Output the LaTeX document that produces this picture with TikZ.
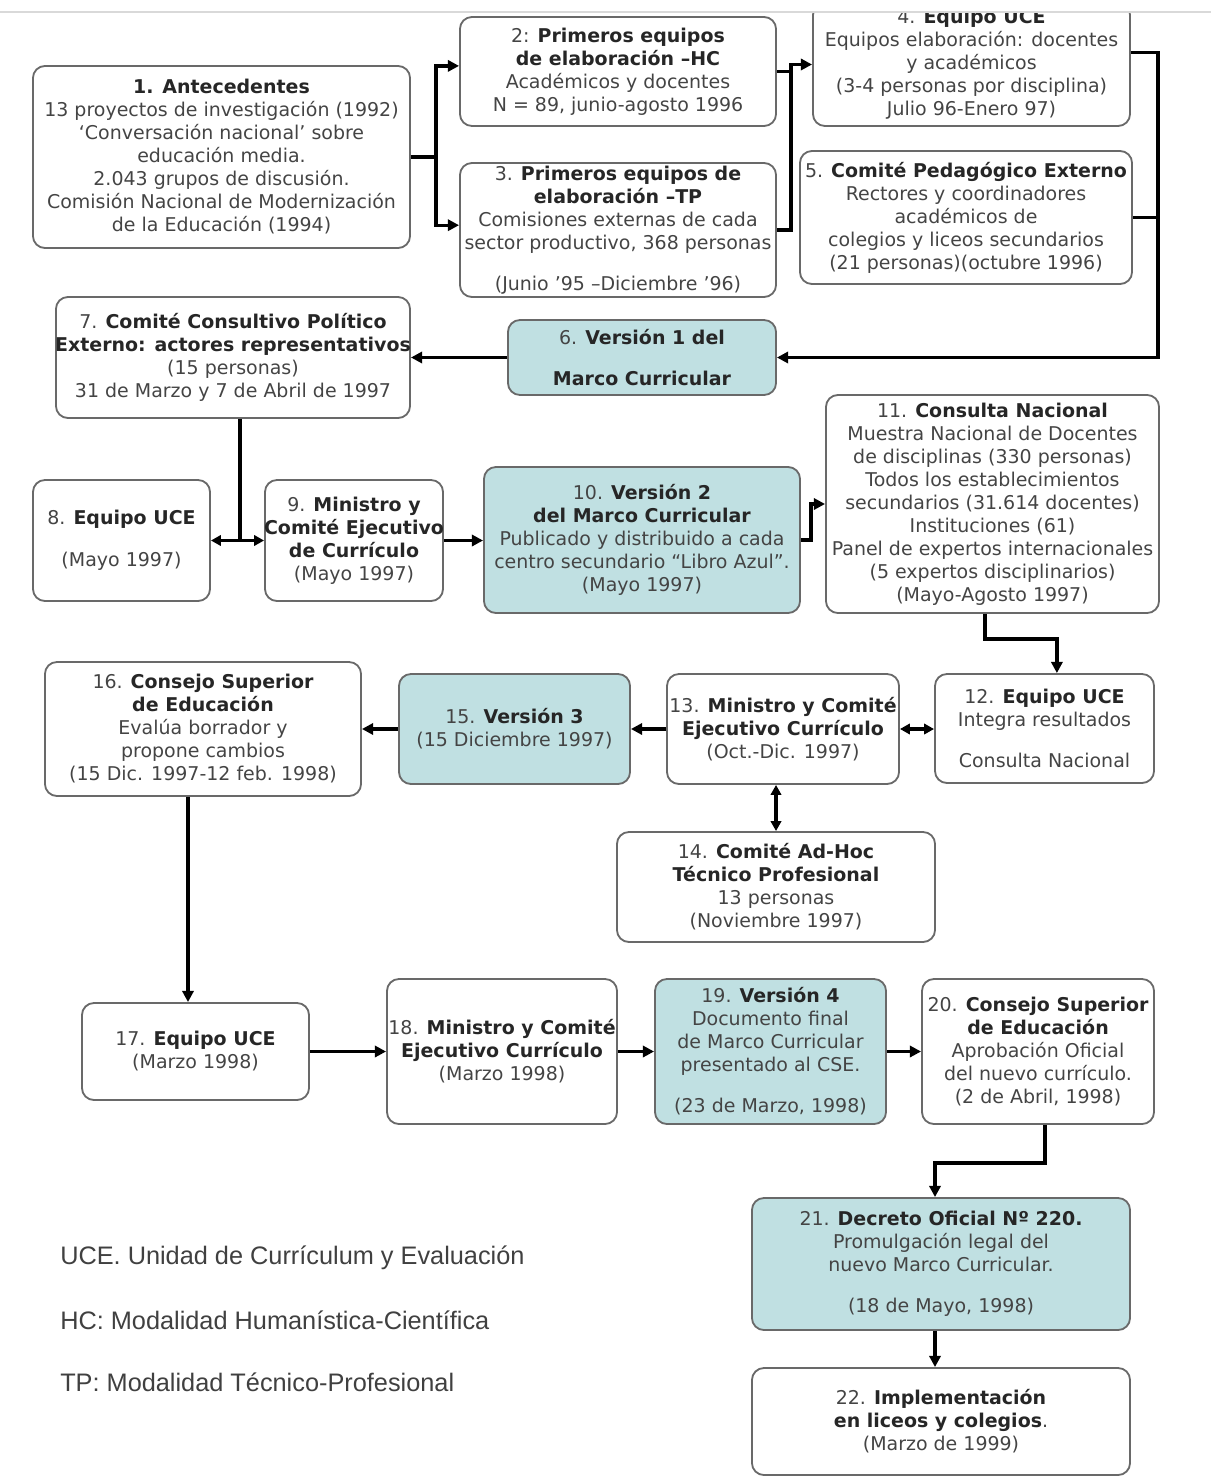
\documentclass[tikz,border=0pt]{standalone}
\usepackage{fontspec}
\setmainfont{DejaVu Sans}
\newfontfamily\leyendafont{Liberation Sans}
\usepackage{xcolor}
\usepackage{tikz}
\usetikzlibrary{arrows.meta}
\definecolor{azul}{RGB}{192,224,226}
\definecolor{borde}{RGB}{105,105,105}
\definecolor{texto}{RGB}{68,68,68}
\newcommand{\titulo}[1]{\textbf{\color{black!85}#1}}

\begin{document}
\begin{tikzpicture}[x=0.025cm, y=-0.025cm,
  caja/.style={draw=borde, line width=1.3pt, rounded corners=0.3cm, align=center,
    inner sep=0pt, text=texto, font=\fontsize{13.5}{16.36}\selectfont},
  version/.style={caja, fill=azul},
  flecha/.style={line width=2.4pt, -{Triangle[length=0.28cm, width=0.28cm]}},
  doble/.style={line width=2.4pt, {Triangle[length=0.25cm, width=0.26cm]}-{Triangle[length=0.25cm, width=0.26cm]}},
  linea/.style={line width=2.4pt},
  leyenda/.style={anchor=west, inner sep=0pt, text=black!75, font=\leyendafont\fontsize{18}{20}\selectfont}]
  \useasboundingbox (0,0) rectangle (1211,1478);

  % fila superior
  \node[caja, minimum width=9.425cm, minimum height=4.55cm] (n1) at (221.5,157)
    {\titulo{1. Antecedentes}\\13 proyectos de investigación (1992)\\‘Conversación nacional’ sobre\\educación media.\\2.043 grupos de discusión.\\Comisión Nacional de Modernización\\de la Educación (1994)};
  \node[caja, minimum width=7.9cm, minimum height=2.725cm] (n2) at (618,71.5)
    {2: \titulo{Primeros equipos}\\\titulo{de elaboración –HC}\\Académicos y docentes\\N = 89, junio-agosto 1996};
  \node[caja, minimum width=7.9cm, minimum height=3.35cm] (n3) at (618,230)
    {3. \titulo{Primeros equipos de}\\\titulo{elaboración –TP}\\Comisiones externas de cada\\sector productivo, 368 personas\\[0.45cm](Junio ’95 –Diciembre ’96)};
  \node[caja, minimum width=7.925cm, minimum height=3.075cm] (n4) at (971.5,64.5)
    {4. \titulo{Equipo UCE}\\Equipos elaboración: docentes\\y académicos\\(3-4 personas por disciplina)\\Julio 96-Enero 97)};
  \node[caja, minimum width=8.3cm, minimum height=3.325cm] (n5) at (966,217.5)
    {5. \titulo{Comité Pedagógico Externo}\\Rectores y coordinadores\\académicos de\\colegios y liceos secundarios\\(21 personas)(octubre 1996)};
  \node[version, minimum width=6.7cm, minimum height=1.875cm] (n6) at (642,357.5)
    {6. \titulo{Versión 1 del}\\[0.45cm]\titulo{Marco Curricular}};
  \node[caja, minimum width=8.85cm, minimum height=3.025cm] (n7) at (233,357.5)
    {7. \titulo{Comité Consultivo Político}\\\makebox[8.85cm]{\titulo{Externo: actores representativos}}\\(15 personas)\\31 de Marzo y 7 de Abril de 1997};

  % segunda fila
  \node[caja, minimum width=4.425cm, minimum height=3.025cm] (n8) at (121.5,540.5)
    {8. \titulo{Equipo UCE}\\[0.47cm](Mayo 1997)};
  \node[caja, minimum width=4.45cm, minimum height=3.025cm] (n9) at (354,540.5)
    {9. \titulo{Ministro y}\\\makebox[4.45cm]{\titulo{Comité Ejecutivo}}\\\titulo{de Currículo}\\(Mayo 1997)};
  \node[version, minimum width=7.9cm, minimum height=3.65cm] (n10) at (642,540)
    {10. \titulo{Versión 2}\\\titulo{del Marco Curricular}\\Publicado y distribuido a cada\\centro secundario “Libro Azul”.\\(Mayo 1997)};
  \node[caja, minimum width=8.325cm, minimum height=5.45cm] (n11) at (992.5,504)
    {11. \titulo{Consulta Nacional}\\Muestra Nacional de Docentes\\de disciplinas (330 personas)\\Todos los establecimientos\\secundarios (31.614 docentes)\\Instituciones (61)\\Panel de expertos internacionales\\(5 expertos disciplinarios)\\(Mayo-Agosto 1997)};

  % tercera fila
  \node[caja, minimum width=5.475cm, minimum height=2.725cm] (n12) at (1044.5,728.5)
    {12. \titulo{Equipo UCE}\\Integra resultados\\[0.45cm]Consulta Nacional};
  \node[caja, minimum width=5.8cm, minimum height=2.75cm] (n13) at (783,729)
    {13. \titulo{Ministro y Comité}\\\titulo{Ejecutivo Currículo}\\(Oct.-Dic. 1997)};
  \node[caja, minimum width=7.95cm, minimum height=2.75cm] (n14) at (776,887)
    {14. \titulo{Comité Ad-Hoc}\\\titulo{Técnico Profesional}\\13 personas\\(Noviembre 1997)};
  \node[version, minimum width=5.775cm, minimum height=2.75cm] (n15) at (514.5,729)
    {15. \titulo{Versión 3}\\(15 Diciembre 1997)};
  \node[caja, minimum width=7.9cm, minimum height=3.35cm] (n16) at (203,729)
    {16. \titulo{Consejo Superior}\\\titulo{de Educación}\\Evalúa borrador y\\propone cambios\\(15 Dic. 1997-12 feb. 1998)};

  % cuarta fila
  \node[caja, minimum width=5.675cm, minimum height=2.425cm] (n17) at (195.5,1051.5)
    {17. \titulo{Equipo UCE}\\(Marzo 1998)};
  \node[caja, minimum width=5.75cm, minimum height=3.625cm] (n18) at (502,1051.5)
    {18. \titulo{Ministro y Comité}\\\titulo{Ejecutivo Currículo}\\(Marzo 1998)};
  \node[version, minimum width=5.775cm, minimum height=3.625cm] (n19) at (770.5,1051.5)
    {19. \titulo{Versión 4}\\Documento final\\de Marco Curricular\\presentado al CSE.\\[0.45cm](23 de Marzo, 1998)};
  \node[caja, minimum width=5.8cm, minimum height=3.625cm] (n20) at (1038,1051.5)
    {20. \titulo{Consejo Superior}\\\titulo{de Educación}\\Aprobación Oficial\\del nuevo currículo.\\(2 de Abril, 1998)};
  \node[version, minimum width=9.45cm, minimum height=3.3cm] (n21) at (941,1264)
    {21. \titulo{Decreto Oficial Nº 220.}\\Promulgación legal del\\nuevo Marco Curricular.\\[0.45cm](18 de Mayo, 1998)};
  \node[caja, minimum width=9.45cm, minimum height=2.675cm] (n22) at (941,1421.5)
    {22. \titulo{Implementación}\\\titulo{en liceos y colegios}.\\(Marzo de 1999)};

  % leyenda
  \node[leyenda] (l1) at (60,1258) {UCE. Unidad de Currículum y Evaluación};
  \node[leyenda] (l2) at (60,1320) {HC: Modalidad Humanística-Científica};
  \node[leyenda] (l3) at (60,1382) {TP: Modalidad Técnico-Profesional};

  % flechas
  \draw[linea] (n1.east) -- ++(25,0) coordinate (b1);
  \draw[flecha] (b1) |- ([yshift=0.14cm]n2.west);
  \draw[flecha] (b1) |- ([yshift=0.12cm]n3.west);
  \draw[linea] (n2.east) -- ++(14,0);
  \draw[flecha] (n3.east) -- ++(14,0) |- (n4.west);
  \draw[linea] (n5.east) -- ++(25,0);
  \draw[flecha] ([yshift=0.3cm]n4.east) -- ++(27,0) |- (n6.east);
  \draw[flecha] (n6.west) -- (n7.east);
  \coordinate (c7) at ([xshift=0.175cm]n7.south);
  \draw[linea] (c7) -- (c7 |- n8.east);
  \draw[doble] (n8.east) -- (n9.west);
  \draw[flecha] (n9.east) -- (n9.east -| n10.west);
  \draw[flecha] (n10.east) -- ++(10,0) |- (n11.west);
  \coordinate (c11) at ([xshift=-0.19cm]n11.south);
  \draw[flecha] (c11) -- ++(0,25) -| ([xshift=0.31cm]n12.north);
  \draw[doble] (n13.east) -- (n13.east -| n12.west);
  \draw[flecha] (n13.west) -- (n13.west -| n15.east);
  \draw[doble] (n14.north) -- (n14.north |- n13.south);
  \draw[flecha] (n15.west) -- (n15.west -| n16.east);
  \coordinate (c16) at ([xshift=-0.375cm]n16.south);
  \draw[flecha] (c16) -- (c16 |- n17.north);
  \draw[flecha] (n17.east) -- (n18.west);
  \draw[flecha] (n18.east) -- (n19.west);
  \draw[flecha] (n19.east) -- (n20.west);
  \coordinate (c20) at ([xshift=0.175cm]n20.south);
  \draw[flecha] (c20) -- ++(0,38) -| ([xshift=-0.15cm]n21.north);
  \draw[flecha] ([xshift=-0.15cm]n21.south) -- ([xshift=-0.15cm]n22.north);

  % borde superior
  \fill[white] (0,0) rectangle (1211,11);
  \draw[black!15, line width=1pt] (0,12) -- (1211,12);
\end{tikzpicture}
\end{document}
